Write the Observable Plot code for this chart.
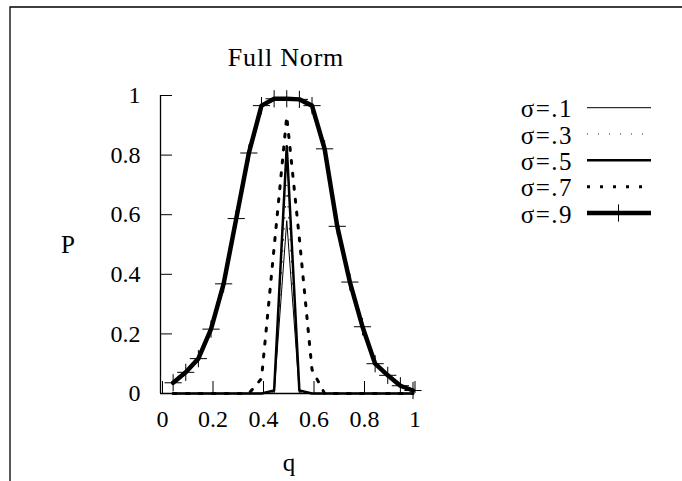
<!DOCTYPE html>
<html><head><meta charset="utf-8">
<script src="https://cdn.jsdelivr.net/npm/d3@7"></script>
<script src="https://cdn.jsdelivr.net/npm/@observablehq/plot@0.6"></script>
<style>body{margin:0;background:#fff}svg{display:block}</style>
</head><body><div id="chart"></div>
<script>
// ---- data ----
const q = [0.05,0.10,0.15,0.20,0.25,0.30,0.35,0.40,0.45,0.50,0.55,0.60,0.65,0.70,0.75,0.80,0.85,0.90,0.95,1.00];
const sigma1 = [0,0,0,0,0,0,0,0,0,0.58,0,0,0,0,0,0,0,0,0,0];
const sigma3 = [0,0,0,0,0,0,0,0,0.005,0.70,0.005,0,0,0,0,0,0,0,0,0];
const sigma5 = [0,0,0,0,0,0,0,0,0.01,0.83,0.01,0,0,0,0,0,0,0,0,0];
const sigma7 = [0,0,0,0,0,0,0,0.05,0.49,0.93,0.52,0.08,0,0,0,0,0,0,0,0];
const sigma9 = [0.036,0.071,0.117,0.216,0.368,0.587,0.807,0.966,0.989,0.989,0.987,0.966,0.821,0.561,0.374,0.224,0.100,0.061,0.026,0.010];
const seriesNames = ["σ=.1","σ=.3","σ=.5","σ=.7","σ=.9"];
const xTicks = [0,0.2,0.4,0.6,0.8,1];
const xTickLabels = ["0","0.2","0.4","0.6","0.8","1"];
const yTicks = [0,0.2,0.4,0.6,0.8,1];
const yTickLabels = ["0","0.2","0.4","0.6","0.8","1"];
const title = "Full Norm";
const xLabel = "q";
const yLabel = "P";

// ---- build ----
const valuesList = [sigma1, sigma3, sigma5, sigma7, sigma9];
const rows = seriesNames.map((s, k) => q.map((x, i) => ({q: x, P: valuesList[k][i], s})));
const styles = [
  {strokeWidth: 1, stroke: "#000"},
  {strokeWidth: 1, stroke: "#222", strokeDasharray: "1,10"},
  {strokeWidth: 2.5, stroke: "#000"},
  {strokeWidth: 3, stroke: "#000", strokeDasharray: "3,10"},
  {strokeWidth: 4.5, stroke: "#000"}
];
const FONT = "'Liberation Serif', 'Times New Roman', serif";
const FS = 24;

const marks = [
  Plot.ruleY([0], {strokeWidth: 1.3}),
  Plot.ruleX([0], {strokeWidth: 1.3}),
  Plot.axisY(yTicks, {tickSize: -12, tickPadding: 32, strokeWidth: 1, tickFormat: d => yTickLabels[yTicks.indexOf(d)], label: null, fontSize: FS}),
  Plot.axisX(xTicks, {tickSize: -12, tickPadding: 28, dx: 2, strokeWidth: 1, tickFormat: d => xTickLabels[xTicks.indexOf(d)], label: null, fontSize: FS})
];
rows.forEach((r, k) => {
  marks.push(Plot.line(r, {x: "q", y: "P", ...styles[k], strokeLinejoin: "round"}));
});
marks.push(Plot.dot(rows[4], {x: "q", y: "P", symbol: "plus", r: 5.6, stroke: "#000", strokeWidth: 1, fill: "none"}));

const chart = Plot.plot({
  width: 682, height: 481,
  marginLeft: 160, marginRight: 269.5, marginTop: 95, marginBottom: 88,
  x: {domain: [0, 1]},
  y: {domain: [0, 1]},
  style: {fontFamily: FONT, fontSize: FS + "px", background: "white", color: "black"},
  marks
});
document.getElementById("chart").appendChild(chart);

// ---- decorations (frame, titles, legend) ----
const svg = d3.select(chart);
svg.append("path").attr("d", "M10,481V7H682").attr("fill", "none").attr("stroke", "#000").attr("stroke-width", 1.3);
const txt = (x, y, s, size) => svg.append("text")
  .attr("x", x).attr("y", y).attr("text-anchor", "middle").attr("dominant-baseline", "central")
  .attr("font-family", FONT).attr("font-size", size).attr("fill", "#000").text(s);
txt(286, 57, title, 26).attr("letter-spacing", 0.8);
txt(68, 244, yLabel, FS + 1);
txt(289, 462, xLabel, FS + 1);

const legY = [107.7, 134, 160.3, 186.7, 213];
seriesNames.forEach((name, k) => {
  const y = legY[k];
  svg.append("text").attr("x", 573).attr("y", y + 1).attr("text-anchor", "end")
    .attr("dominant-baseline", "central").attr("font-family", FONT).attr("font-size", FS + 1)
    .attr("letter-spacing", 1.5).text(name);
  const st = styles[k];
  svg.append("line").attr("x1", 587).attr("x2", 651).attr("y1", y).attr("y2", y)
    .attr("stroke", st.stroke).attr("stroke-width", st.strokeWidth)
    .attr("stroke-dasharray", st.strokeDasharray || null);
  if (k === 4) {
    svg.append("path").attr("d", d3.symbol(d3.symbolPlus, 5.6 * 5.6 * Math.PI)())
      .attr("transform", `translate(618.5,${y})`).attr("stroke", "#000").attr("fill", "none").attr("stroke-width", 1);
  }
});
</script>
</body></html>
